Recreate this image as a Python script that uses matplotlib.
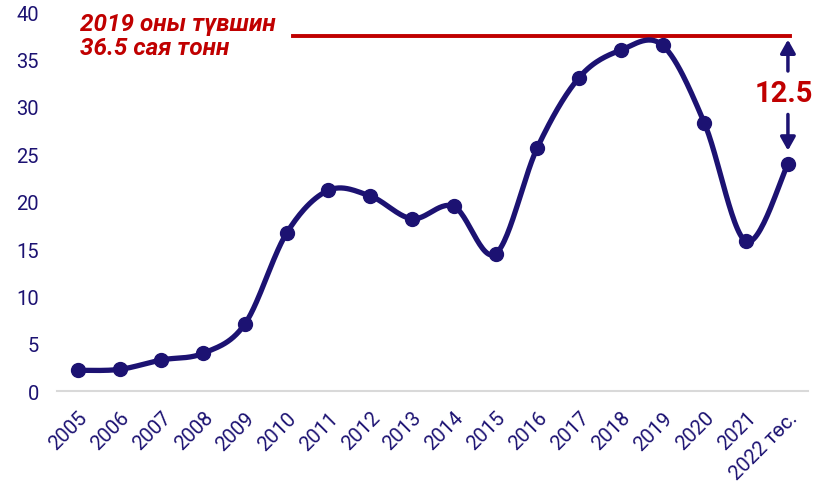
import matplotlib

matplotlib.use("Agg")
import matplotlib.pyplot as plt
import numpy as np

plt.rcParams["font.family"] = ["Roboto", "DejaVu Sans"]

years = ["2005", "2006", "2007", "2008", "2009", "2010", "2011", "2012", "2013",
         "2014", "2015", "2016", "2017", "2018", "2019", "2020", "2021", "2022 төс."]
values = [2.2, 2.3, 3.3, 4.0, 7.1, 16.7, 21.2, 20.6, 18.2,
          19.5, 14.5, 25.7, 33.1, 36.0, 36.5, 28.3, 15.8, 24.0]
level_2019 = 36.5
gap = 12.5

NAVY = "#1c1272"
RED = "#c00000"


def smooth(x, y, n=30, t=0.5):
    # Catmull-Rom style curve through the points (like a spreadsheet "smoothed line")
    x = np.asarray(x, float)
    y = np.asarray(y, float)
    px = np.concatenate([[x[0]], x, [x[-1]]])
    py = np.concatenate([[y[0]], y, [y[-1]]])
    xs, ys = [], []
    for i in range(1, len(px) - 2):
        p0, p1, p2, p3 = (np.array([px[j], py[j]]) for j in (i - 1, i, i + 1, i + 2))
        m1 = t * (p2 - p0)
        m2 = t * (p3 - p1)
        s = np.linspace(0, 1, n)[:, None]
        h00 = 2 * s**3 - 3 * s**2 + 1
        h10 = s**3 - 2 * s**2 + s
        h01 = -2 * s**3 + 3 * s**2
        h11 = s**3 - s**2
        pts = h00 * p1 + h10 * m1 + h01 * p2 + h11 * m2
        xs.extend(pts[:, 0])
        ys.extend(pts[:, 1])
    return np.array(xs), np.array(ys)


fig = plt.figure(figsize=(8.14, 4.89), dpi=100)
ax = fig.add_axes([0.070, 0.198, 0.9226, 0.775])

x = np.arange(len(years))
sx, sy = smooth(x, values)
ax.plot(sx, sy, color=NAVY, lw=3.8, solid_capstyle="round", zorder=3, clip_on=False)
ax.plot(x, values, "o", color=NAVY, ms=10, zorder=4, clip_on=False)

# 2019 level line
top = level_2019 + 1.0
ax.plot([5.15, 17.05], [top, top], color=RED, lw=2.8, zorder=2, clip_on=False)
ax.text(0.05, 37.55, "2019 оны түвшин\n36.5 сая тонн", color=RED, fontsize=17.5,
        fontweight="bold", style="italic", va="center", ha="left", linespacing=1.1)

# gap arrows
xe = len(years) - 1
head = "-|>,head_length=0.8,head_width=0.45"
ax.annotate("", xy=(xe, top - 0.1), xytext=(xe, top - 4.0),
            arrowprops=dict(arrowstyle=head, color=NAVY, lw=2.5))
ax.annotate("", xy=(xe, values[-1] + 1.1), xytext=(xe, values[-1] + 5.5),
            arrowprops=dict(arrowstyle=head, color=NAVY, lw=2.5))
ax.text(xe - 0.1, (top + values[-1]) / 2 + 0.75, f"{gap}", color=RED, fontsize=21,
        fontweight="bold", ha="center", va="center")

ax.set_ylim(0, 40)
ax.set_xlim(-0.5, len(years) - 0.52)
ax.set_yticks(range(0, 41, 5))
ax.set_xticks(x)
ax.set_xticklabels(years, rotation=45, ha="right", rotation_mode="anchor")
ax.tick_params(axis="both", length=0, colors=NAVY, labelsize=14.5)
ax.tick_params(axis="x", pad=12)
ax.tick_params(axis="y", pad=13)
for s in ("top", "right", "left"):
    ax.spines[s].set_visible(False)
ax.spines["bottom"].set_color("#d9d9d9")
ax.spines["bottom"].set_linewidth(1.5)

fig.savefig("out.png", dpi=100)
